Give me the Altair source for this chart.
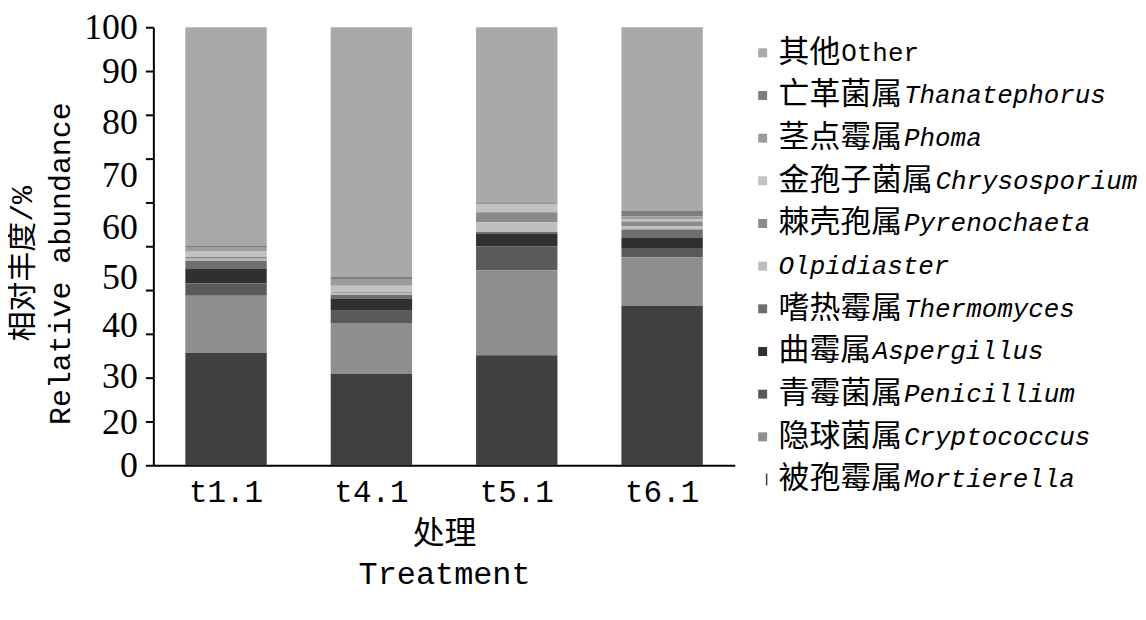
import altair as alt
import pandas as pd

treatments = ["t1.1", "t4.1", "t5.1", "t6.1"]

# legend order, top to bottom
genera_cn = ["其他", "亡革菌属", "茎点霉属", "金孢子菌属", "棘壳孢属", "",
             "嗜热霉属", "曲霉属", "青霉菌属", "隐球菌属", "被孢霉属"]
genera_la = ["Other", "Thanatephorus", "Phoma", "Chrysosporium", "Pyrenochaeta",
             "Olpidiaster", "Thermomyces", "Aspergillus", "Penicillium",
             "Cryptococcus", "Mortierella"]
colors = ["#a9a9a9", "#7e7e7e", "#9c9c9c", "#c2c2c2", "#8a8a8a", "#bebebe",
          "#6e6e6e", "#303030", "#5a5a5a", "#8e8e8e", "#404040"]

# relative abundance (%) per genus, for t1.1, t4.1, t5.1, t6.1
other = [49.85, 57.0, 39.55, 41.85]
thanatephorus = [0.5, 0.5, 0.2, 1.35]
phoma = [0.75, 1.5, 0.6, 0.6]
chrysosporium = [1.3, 1.5, 1.9, 0.55]
pyrenochaeta = [0.45, 0.2, 2.3, 1.1]
olpidiaster = [0.45, 0.45, 2.2, 0.75]
thermomyces = [1.8, 0.75, 0.45, 1.9]
aspergillus = [3.4, 2.8, 2.8, 2.3]
penicillium = [2.8, 2.8, 5.5, 2.1]
cryptococcus = [13.0, 11.6, 19.4, 11.1]
mortierella = [25.7, 20.9, 25.1, 36.4]

series = [other, thanatephorus, phoma, chrysosporium, pyrenochaeta, olpidiaster,
          thermomyces, aspergillus, penicillium, cryptococcus, mortierella]

# y-axis tick labels as printed in the figure, and where they sit on the scale
y_label_text = ["0", "20", "30", "40", "50", "60", "70", "80", "90", "100"]
y_label_pos = [0, 9.7, 20.2, 32.0, 42.8, 54.2, 66.2, 78.2, 89.8, 100]
y_tick_values = [0, 10, 20, 30, 40, 50, 60, 70, 80, 90, 100]

n = len(genera_la)
rows = []
for i, (g, vals) in enumerate(zip(genera_la, series)):
    for t, v in zip(treatments, vals):
        rows.append({"treatment": t, "genus": g, "value": v, "ord": n - 1 - i})
df = pd.DataFrame(rows)

color_scale = alt.Scale(domain=genera_la, range=colors)
y_scale = alt.Scale(domain=[0, 100], nice=False)

mono = "Liberation Mono, Noto Sans CJK SC"

tick_axis = alt.Axis(values=y_tick_values, labels=False, ticks=True, tickSize=8,
                     tickWidth=2, domain=True, domainWidth=2, grid=False, title=None,
                     orient="left")

label_expr = "[" + ",".join(f"'{t}'" for t in y_label_text) + "][indexof([" + \
    ",".join(str(p) for p in y_label_pos) + "], datum.value)]"

label_axis = alt.Axis(values=y_label_pos, labelExpr=label_expr, ticks=False,
                      domain=False, grid=False, orient="left",
                      labelFont="Liberation Serif", labelFontSize=36, labelPadding=16,
                      labelColor="black",
                      title=["相对丰度/%", "Relative abundance"], titleFont=mono,
                      titleFontSize=30, titleFontWeight="normal", titleLineHeight=38,
                      titlePadding=8, titleColor="black", titleY=237)

bars = alt.Chart(df).mark_bar().encode(
    x=alt.X("treatment:N", sort=treatments,
            scale=alt.Scale(paddingInner=0.44, paddingOuter=0.22),
            axis=alt.Axis(labelAngle=0, ticks=False, domainWidth=2, domainColor="black",
                          labelFont="Liberation Mono", labelFontSize=31, labelPadding=12,
                          labelColor="black",
                          title=["处理", "Treatment"], titleFont=mono, titleFontSize=32,
                          titleFontWeight="normal", titleLineHeight=40, titlePadding=12,
                          titleColor="black")),
    y=alt.Y("value:Q", stack="zero", scale=y_scale, axis=tick_axis),
    color=alt.Color("genus:N", scale=color_scale, legend=None),
    order=alt.Order("ord:Q", sort="ascending"),
)

lab_df = pd.DataFrame({"pos": y_label_pos})
label_layer = alt.Chart(lab_df).mark_point(opacity=0).encode(
    y=alt.Y("pos:Q", scale=y_scale, axis=label_axis)
)

main = alt.layer(bars, label_layer).resolve_axis(y="independent").properties(
    width=584, height=440)

# legend panel
leg_df = pd.DataFrame({
    "key": genera_la,
    "cn": genera_cn,
    "la": genera_la,
    "n_cn": [len(c) for c in genera_cn],
    "italic": [g != "Other" for g in genera_la],
})
ybase = alt.Y("key:N", sort=genera_la, scale=alt.Scale(type="point", padding=0.6),
              axis=None)
base = alt.Chart(leg_df).encode(y=ybase)

sym = base.transform_filter("datum.key != 'Mortierella'").mark_square(
    size=81, opacity=1).encode(
    x=alt.value(6), color=alt.Color("key:N", scale=color_scale, legend=None))
sym_m = base.transform_filter("datum.key == 'Mortierella'").mark_tick(
    orient="vertical", size=12, thickness=1.5, opacity=1).encode(
    x=alt.value(10), color=alt.Color("key:N", scale=color_scale, legend=None))

cn_text = base.mark_text(align="left", baseline="middle", font="Noto Sans CJK SC",
                         fontSize=31, color="black").encode(
    x=alt.value(22), text="cn:N")
xs = alt.X("n_cn:Q", scale=alt.Scale(domain=[0, 1], range=[22, 53.5]), axis=None)
la_it = base.transform_filter("datum.italic").mark_text(
    align="left", baseline="middle", font="Liberation Mono", fontSize=26,
    fontStyle="italic", color="black").encode(x=xs, text="la:N")
la_rg = base.transform_filter("!datum.italic").mark_text(
    align="left", baseline="middle", font="Liberation Mono", fontSize=26,
    color="black").encode(x=xs, text="la:N")

legend = alt.layer(sym, sym_m, cn_text, la_it, la_rg).properties(width=360, height=480)

chart = alt.hconcat(main, legend, spacing=22).properties(
    padding={"left": 0, "top": 0, "right": 0, "bottom": 5}
).configure_view(stroke=None).configure_axis(
    domainColor="black", tickColor="black", labelColor="black", grid=False)

chart.save("out.html", embed_options={"renderer": "svg", "actions": False})
